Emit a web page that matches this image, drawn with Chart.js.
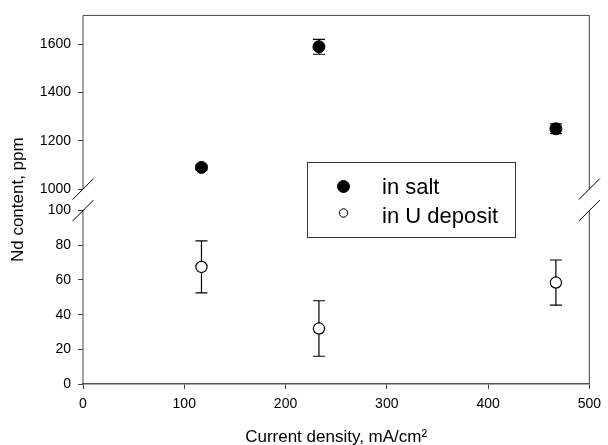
<!DOCTYPE html>
<html>
<head>
<meta charset="utf-8">
<script src="https://cdn.jsdelivr.net/npm/chart.js@4.4.1/dist/chart.umd.min.js"></script>
<style>
  html, body { margin: 0; padding: 0; background: #fff; }
</style>
</head>
<body>
<canvas id="chart" width="608" height="445"></canvas>
<script>
// values
const densities = [117, 233, 467];          // mA/cm2
const saltNd = [1090, 1590, 1250];          // ppm
const saltErr = [10, 31, 20];
const depositNd = [67.5, 32, 58.5];         // ppm
const depositErr = [15, 16, 13];
const seriesLabels = ['in salt', 'in U deposit'];
const upperTicks = [1000, 1200, 1400, 1600];
const lowerTicks = [0, 20, 40, 60, 80, 100];
const xTicks = [0, 100, 200, 300, 400, 500];

const FONT = "'Liberation Sans', Arial, sans-serif";
const AXIS = '#444';

const toPoints = (ys) => ys.map((y, i) => ({ x: densities[i], y }));

// error bars go under the markers
const errorBars = {
  id: 'errorBars',
  beforeDatasetsDraw(chart) {
    const { ctx, scales } = chart;
    ctx.save();
    ctx.strokeStyle = '#000';
    ctx.lineWidth = 1.2;
    chart.data.datasets.forEach(ds => {
      const ys = scales[ds.yAxisID];
      ds.data.forEach((p, i) => {
        const px = scales.x.getPixelForValue(p.x);
        const top = ys.getPixelForValue(p.y + ds.errors[i]);
        const bot = ys.getPixelForValue(p.y - ds.errors[i]);
        ctx.beginPath();
        ctx.moveTo(px, top); ctx.lineTo(px, bot);
        ctx.moveTo(px - 6, top); ctx.lineTo(px + 6, top);
        ctx.moveTo(px - 6, bot); ctx.lineTo(px + 6, bot);
        ctx.stroke();
      });
    });
    ctx.restore();
  }
};

// frame with the axis break, y title and the boxed legend
const brokenFrame = {
  id: 'brokenFrame',
  afterDraw(chart) {
    const { ctx, chartArea: a, scales } = chart;
    const yHi = scales.yUpper.getPixelForValue(upperTicks[0]);
    const yLo = scales.yLower.getPixelForValue(lowerTicks[lowerTicks.length - 1]);
    ctx.save();
    ctx.strokeStyle = AXIS;
    ctx.lineWidth = 1;
    ctx.beginPath();
    [a.left, a.right].forEach(x => {
      ctx.moveTo(x, a.top); ctx.lineTo(x, yHi);
      ctx.moveTo(x, yLo); ctx.lineTo(x, a.bottom);
    });
    ctx.moveTo(a.left, a.top); ctx.lineTo(a.right, a.top);
    ctx.stroke();

    ctx.strokeStyle = '#000';
    ctx.beginPath();
    [a.left, a.right].forEach(x => {
      [yHi, yLo].forEach(y => {
        ctx.moveTo(x - 10.5, y + 10.5); ctx.lineTo(x + 10.5, y - 10.5);
      });
    });
    ctx.stroke();

    // y axis title, centred on the whole plot height
    ctx.fillStyle = '#000';
    ctx.font = '17px ' + FONT;
    ctx.textAlign = 'center';
    ctx.textBaseline = 'middle';
    ctx.translate(18, (a.top + a.bottom) / 2);
    ctx.rotate(-Math.PI / 2);
    ctx.fillText('Nd content, ppm', 0, 0);
    ctx.restore();

    // legend
    ctx.save();
    ctx.strokeStyle = '#333';
    ctx.lineWidth = 1;
    ctx.strokeRect(307.5, 162.5, 208, 75);
    const rows = [{ my: 186.5, ty: 194 }, { my: 213, ty: 223 }];
    chart.data.datasets.forEach((ds, i) => {
      ctx.beginPath();
      ctx.arc(343.5, rows[i].my, i === 0 ? 6 : 4.2, 0, Math.PI * 2);
      ctx.fillStyle = ds.backgroundColor;
      ctx.fill();
      ctx.strokeStyle = '#000';
      ctx.lineWidth = 1;
      ctx.stroke();
      ctx.fillStyle = '#000';
      ctx.font = '22px ' + FONT;
      ctx.textAlign = 'left';
      ctx.textBaseline = 'alphabetic';
      ctx.fillText(ds.label, 382, rows[i].ty);
    });
    ctx.restore();
  }
};

const yCommon = {
  type: 'linear',
  position: 'left',
  stack: 'nd',
  border: { display: false },
  grid: { drawOnChartArea: false, drawTicks: true, tickLength: 5, color: AXIS },
  ticks: {
    autoSkip: false,
    padding: 7,
    color: '#000',
    font: { family: FONT, size: 14 },
    callback: v => String(v)
  },
  afterFit: s => { s.width = 83; }
};

new Chart(document.getElementById('chart'), {
  type: 'scatter',
  data: {
    datasets: [
      {
        label: seriesLabels[0],
        data: toPoints(saltNd),
        errors: saltErr,
        yAxisID: 'yUpper',
        backgroundColor: '#000',
        borderColor: '#000',
        borderWidth: 1,
        pointRadius: 6,
        pointHoverRadius: 6
      },
      {
        label: seriesLabels[1],
        data: toPoints(depositNd),
        errors: depositErr,
        yAxisID: 'yLower',
        backgroundColor: '#fff',
        borderColor: '#000',
        borderWidth: 1.2,
        pointRadius: 5.6,
        pointHoverRadius: 5.6
      }
    ]
  },
  options: {
    responsive: false,
    animation: false,
    layout: { padding: { top: 15, right: 13, left: 0, bottom: 0 } },
    plugins: {
      legend: { display: false },
      tooltip: { enabled: false }
    },
    scales: {
      x: {
        type: 'linear',
        min: 0,
        max: 500,
        border: { display: true, color: '#555', width: 1.5 },
        grid: { drawOnChartArea: false, drawTicks: true, tickLength: 5, color: AXIS },
        afterBuildTicks: s => { s.ticks = xTicks.map(v => ({ value: v })); },
        ticks: {
          autoSkip: false,
          maxRotation: 0,
          padding: 7,
          color: '#000',
          font: { family: FONT, size: 14 }
        },
        title: {
          display: true,
          text: 'Current density, mA/cm²',
          color: '#000',
          font: { family: FONT, size: 17 },
          padding: { top: 0, bottom: -3 }
        },
        afterFit: s => { s.height = 61; }
      },
      // left boxes are stacked in reverse order, so the lower part comes first
      yLower: Object.assign({}, yCommon, {
        min: 0,
        max: 106,
        stackWeight: 184,
        afterBuildTicks: s => { s.ticks = lowerTicks.map(v => ({ value: v })); }
      }),
      yUpper: Object.assign({}, yCommon, {
        min: 954,
        max: 1720,
        stackWeight: 185,
        afterBuildTicks: s => { s.ticks = upperTicks.map(v => ({ value: v })); }
      })
    }
  },
  plugins: [errorBars, brokenFrame]
});
</script>
</body>
</html>
